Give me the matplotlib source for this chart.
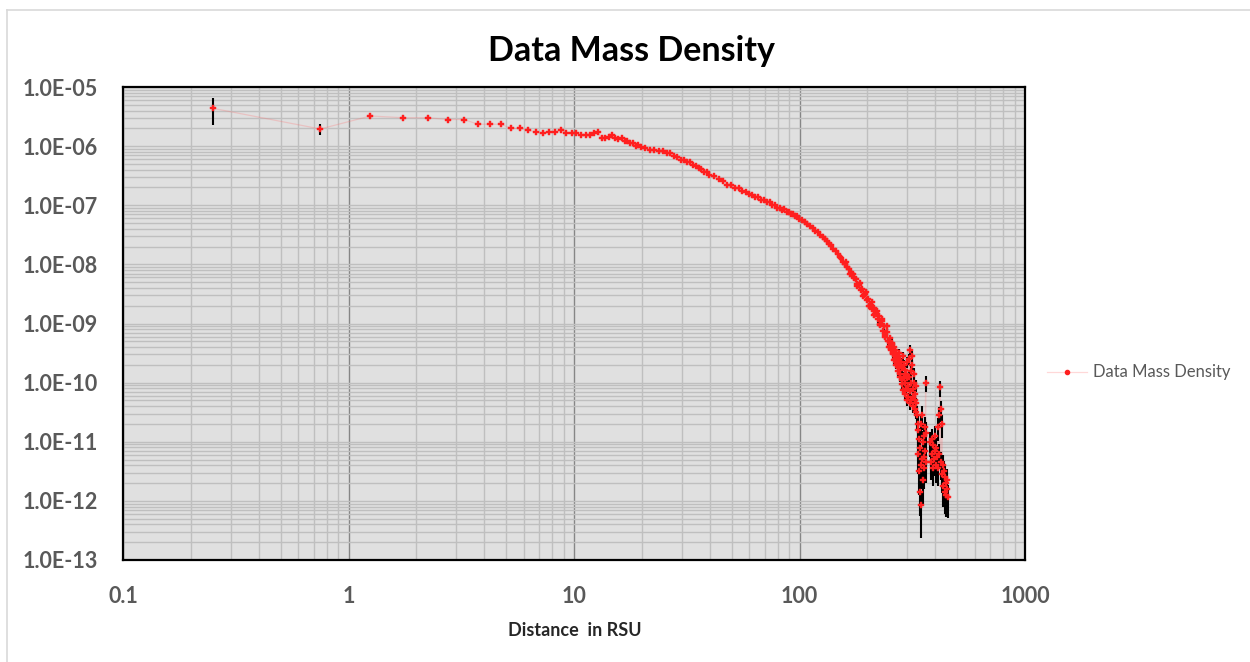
import numpy as np
import matplotlib
matplotlib.use("Agg")
import matplotlib.pyplot as plt
from matplotlib.ticker import FixedLocator, LogLocator, NullFormatter, FixedFormatter
from matplotlib.lines import Line2D

# ---------------- data ----------------
title = "Data Mass Density"
x_label = "Distance  in RSU"
series_name = "Data Mass Density"
x_ticks = [0.1, 1, 10, 100, 1000]
x_tick_labels = ["0.1", "1", "10", "100", "1000"]
y_ticks = [1e-13, 1e-12, 1e-11, 1e-10, 1e-9, 1e-8, 1e-7, 1e-6, 1e-5]
y_tick_labels = ["1.0E-13", "1.0E-12", "1.0E-11", "1.0E-10", "1.0E-09",
                 "1.0E-08", "1.0E-07", "1.0E-06", "1.0E-05"]

# inner region (bins of 0.5 RSU)
dist_a = [0.25, 0.75, 1.25, 1.75, 2.25, 2.75, 3.25, 3.75, 4.25, 4.75, 5.25, 5.75,
          6.25, 6.75, 7.25, 7.75, 8.25, 8.75, 9.25, 9.75, 10.25, 10.75, 11.25,
          11.75, 12.25, 12.75, 13.25, 13.75, 14.25, 14.75, 15.25,
          15.75, 16.25, 16.75, 17.25, 17.75, 18.25, 18.75, 19.25, 19.75]
logd_a = [-5.36, -5.71, -5.49, -5.52, -5.52, -5.55, -5.55, -5.63, -5.63, -5.63,
          -5.70, -5.70, -5.73, -5.76, -5.78, -5.76, -5.76, -5.73, -5.78, -5.78,
          -5.78, -5.82, -5.82, -5.81, -5.78, -5.76, -5.86, -5.87, -5.84, -5.81,
          -5.86, -5.88, -5.87, -5.92, -5.92, -5.95, -5.95, -5.99, -5.98, -6.02]
err_a = [0.48, 0.20, 0.09, 0.06, 0.05, 0.05, 0.04, 0.04, 0.04, 0.04,
         0.03, 0.03, 0.03, 0.03, 0.03, 0.03, 0.03, 0.03, 0.03, 0.03,
         0.03, 0.03, 0.03, 0.03, 0.03, 0.03, 0.03, 0.03, 0.03, 0.03,
         0.03, 0.03, 0.03, 0.03, 0.03, 0.03, 0.03, 0.03, 0.03, 0.03]

# middle region
dist_b = [20.75, 21.75, 22.75, 23.75, 24.75, 25.75, 26.75, 27.75, 28.75, 29.75,
          30.75, 31.75, 32.75, 33.75, 34.75, 35.75, 36.75, 37.75, 38.75, 39.75,
          41.75, 43.75, 45.75, 47.75, 49.75, 51.75, 53.75, 55.75, 57.75, 59.75,
          61.75, 63.75, 65.75, 67.75, 69.75, 71.75, 73.75, 75.75, 77.75, 79.75,
          81.75, 83.75, 85.75, 87.75, 89.75, 91.75, 93.75, 95.75, 97.75, 99.75]
logd_b = [-6.03, -6.06, -6.06, -6.08, -6.08, -6.12, -6.12, -6.16, -6.18, -6.23,
          -6.23, -6.27, -6.27, -6.32, -6.33, -6.37, -6.38, -6.43, -6.43, -6.49,
          -6.51, -6.56, -6.59, -6.65, -6.66, -6.71, -6.71, -6.76, -6.77, -6.81,
          -6.82, -6.86, -6.86, -6.91, -6.91, -6.95, -6.95, -6.99, -7.00, -7.04,
          -7.04, -7.08, -7.07, -7.11, -7.11, -7.15, -7.15, -7.19, -7.19, -7.23]
err_b = [0.03, 0.03, 0.03, 0.03, 0.03, 0.03, 0.03, 0.03, 0.03, 0.03,
         0.03, 0.03, 0.03, 0.03, 0.03, 0.03, 0.03, 0.03, 0.03, 0.03,
         0.03, 0.03, 0.03, 0.03, 0.03, 0.03, 0.03, 0.03, 0.03, 0.03,
         0.03, 0.03, 0.03, 0.03, 0.03, 0.03, 0.03, 0.03, 0.03, 0.03,
         0.04, 0.04, 0.04, 0.04, 0.04, 0.04, 0.04, 0.04, 0.04, 0.04]

# steep fall-off
dist_c = [102.5, 105.5, 108.5, 111.5, 114.5, 117.5, 120.5, 123.5, 126.5, 129.5,
          132.5, 135.5, 138.5, 141.5, 144.5, 147.5, 150.5, 153.5, 156.5, 159.5,
          162.5, 165.5, 168.5, 171.5, 174.5, 177.5, 180.5, 183.5, 186.5, 189.5,
          192.5, 195.5, 198.5, 201.5, 204.5, 207.5, 210.5, 213.5, 216.5, 219.5,
          222.5, 225.5, 228.5, 231.5, 234.5, 237.5, 240.5, 243.5, 246.5]
logd_c = [-7.25, -7.29, -7.31, -7.35, -7.38, -7.43, -7.45, -7.50, -7.54, -7.57,
          -7.61, -7.65, -7.68, -7.74, -7.78, -7.82, -7.87, -7.90, -7.96, -7.99,
          -8.05, -8.07, -8.14, -8.16, -8.23, -8.25, -8.33, -8.35, -8.44, -8.42,
          -8.52, -8.50, -8.60, -8.58, -8.70, -8.68, -8.76, -8.74, -8.84, -8.80,
          -8.93, -8.87, -9.00, -8.95, -9.12, -9.05, -9.22, -9.15, -9.30]
err_c = [0.05, 0.05, 0.05, 0.05, 0.05, 0.05, 0.05, 0.05, 0.05, 0.05,
         0.06, 0.06, 0.06, 0.06, 0.06, 0.07, 0.07, 0.07, 0.07, 0.08,
         0.08, 0.08, 0.09, 0.09, 0.10, 0.10, 0.10, 0.10, 0.10, 0.10,
         0.10, 0.10, 0.10, 0.10, 0.10, 0.10, 0.10, 0.10, 0.10, 0.10,
         0.12, 0.12, 0.12, 0.12, 0.12, 0.12, 0.12, 0.12, 0.12]

# extra scattered bins inside the fall-off
dist_c2 = [161.0, 167.0, 173.0, 179.0, 185.0, 191.0, 197.0, 203.0, 209.0, 215.0,
           221.0, 227.0, 233.0, 239.0, 245.0, 249.0]
logd_c2 = [-7.96, -8.17, -8.16, -8.36, -8.32, -8.53, -8.46, -8.70, -8.63, -8.86,
           -8.79, -9.02, -8.93, -9.20, -9.05, -9.40]
err_c2 = [0.08, 0.09, 0.09, 0.10, 0.10, 0.10, 0.10, 0.10, 0.10, 0.10,
          0.12, 0.12, 0.12, 0.12, 0.12, 0.12]

# noisy outer tail
dist_d = [250.0, 252.5, 255.0, 257.5, 260.0, 262.5, 265.0, 267.5, 270.0, 272.5,
          275.0, 277.5, 280.0, 282.5, 285.0, 287.5, 290.0, 292.5, 295.0, 297.5,
          300.0, 302.5, 305.0, 307.5, 310.0, 312.5, 315.0, 317.5, 320.0, 322.5,
          325.0, 327.5, 330.0]
logd_d = [-9.30, -9.38, -9.45, -9.35, -9.52, -9.46, -9.60, -9.50, -9.68, -9.58,
          -9.75, -9.62, -9.85, -9.70, -9.95, -9.55, -9.90, -10.00, -9.78, -10.10,
          -9.92, -10.05, -9.60, -10.15, -9.45, -10.00, -9.70, -10.25, -10.10, -9.85,
          -10.30, -10.05, -10.35]
err_d = [0.13, 0.13, 0.14, 0.14, 0.14, 0.15, 0.15, 0.15, 0.16, 0.16,
         0.16, 0.17, 0.17, 0.17, 0.18, 0.18, 0.18, 0.19, 0.19, 0.19,
         0.20, 0.20, 0.20, 0.21, 0.21, 0.21, 0.22, 0.22, 0.22, 0.23,
         0.23, 0.23, 0.24]

dist_d2 = [251.25, 253.75, 256.25, 258.75, 261.25, 263.75, 266.25, 268.75,
           271.25, 273.75, 276.25, 278.75, 281.25, 283.75, 286.25, 288.75,
           291.25, 293.75, 296.25, 298.75, 301.25, 303.75, 306.25, 308.75,
           311.25, 313.75, 316.25, 318.75, 321.25, 323.75, 326.25, 328.75]
logd_d2 = [-9.25, -9.42, -9.33, -9.50, -9.40, -9.62, -9.44, -9.70,
           -9.55, -9.80, -9.50, -9.90, -9.65, -10.02, -9.75, -10.12,
           -9.70, -10.20, -9.85, -10.30, -9.65, -10.25, -9.90, -10.35,
           -9.80, -10.30, -9.55, -10.40, -10.00, -10.45, -10.20, -10.50]
err_d2 = [0.14, 0.14, 0.15, 0.15, 0.15, 0.16, 0.16, 0.16,
          0.17, 0.17, 0.17, 0.18, 0.18, 0.18, 0.19, 0.19,
          0.19, 0.20, 0.20, 0.20, 0.21, 0.21, 0.21, 0.22,
          0.22, 0.22, 0.23, 0.23, 0.23, 0.24, 0.24, 0.24]

dist_e = [332.5, 334.0, 335.5, 337.0, 338.5, 340.0, 341.5, 343.0, 344.5, 346.0,
          347.5, 349.0, 350.5, 352.0, 353.5, 355.0, 356.5, 358.0, 359.5, 361.0,
          362.5, 364.0, 365.5]
logd_e = [-10.55, -10.70, -11.20, -10.80, -11.50, -10.95, -11.85, -11.10, -11.40,
          -10.70, -12.07, -11.30, -10.55, -11.00, -11.65, -11.25, -10.90, -11.45,
          -11.15, -10.75, -10.00, -11.35, -10.85]
err_e = [0.45, 0.50, 0.55, 0.50, 0.60, 0.50, 0.60, 0.55, 0.60, 0.45,
         0.72, 0.55, 0.45, 0.50, 0.60, 0.55, 0.50, 0.55, 0.52, 0.45,
         0.30, 0.55, 0.50]

dist_f = [380.0, 382.5, 385.0, 387.5, 390.0, 392.5, 395.0, 397.5, 400.0, 402.5,
          405.0, 407.5, 410.0, 412.5, 415.0, 417.5, 420.0, 422.5, 425.0, 427.5,
          430.0, 432.5, 435.0, 437.5, 440.0, 442.5, 445.0, 447.5, 450.0, 452.5,
          455.0]
logd_f = [-11.00, -11.35, -10.95, -11.20, -11.45, -11.05, -11.30, -10.90, -11.15, -11.40,
          -11.10, -11.25, -10.75, -11.45, -10.55, -11.20, -10.08, -10.45, -11.35, -10.70,
          -11.55, -11.40, -11.75, -11.50, -11.85, -11.60, -11.90, -11.70, -11.80, -11.65,
          -11.93]
err_f = [0.45, 0.50, 0.45, 0.48, 0.50, 0.45, 0.48, 0.45, 0.46, 0.50,
         0.46, 0.48, 0.42, 0.50, 0.40, 0.46, 0.30, 0.38, 0.50, 0.42,
         0.52, 0.50, 0.55, 0.50, 0.57, 0.52, 0.57, 0.52, 0.55, 0.52,
         0.57]

dist = np.array(dist_a + dist_b + dist_c + dist_c2 + dist_d + dist_d2 + dist_e + dist_f)
log_density = np.array(logd_a + logd_b + logd_c + logd_c2 + logd_d + logd_d2 + logd_e + logd_f)
rel_err = np.array(err_a + err_b + err_c + err_c2 + err_d + err_d2 + err_e + err_f)

order = np.argsort(dist, kind="stable")
dist = dist[order]
log_density = log_density[order]
rel_err = rel_err[order]

density = 10.0 ** log_density
yerr = density * rel_err

# ---------------- style ----------------
plt.rcParams["font.family"] = ["Lato", "DejaVu Sans"]
W, H = 1250, 662
fig = plt.figure(figsize=(W / 100, H / 100), dpi=100)
fig.patch.set_facecolor("white")

# outer chart frame (left and top visible)
fig.add_artist(Line2D([7 / W, 7 / W], [0, 1 - 10 / H], color="#d9d9d9", lw=1.2))
fig.add_artist(Line2D([7 / W, 1], [1 - 10 / H, 1 - 10 / H], color="#d9d9d9", lw=1.2))

ax_l, ax_r, ax_t, ax_b = 123, 1025, 87, 560
ax = fig.add_axes([ax_l / W, 1 - ax_b / H, (ax_r - ax_l) / W, (ax_b - ax_t) / H])
ax.set_facecolor("#e0e0e0")
ax.set_xscale("log")
ax.set_yscale("log")
ax.set_xlim(0.1, 1000)
ax.set_ylim(1e-13, 1e-5)

ax.xaxis.set_major_locator(FixedLocator(x_ticks))
ax.xaxis.set_major_formatter(FixedFormatter(x_tick_labels))
ax.yaxis.set_major_locator(FixedLocator(y_ticks))
ax.yaxis.set_major_formatter(FixedFormatter(y_tick_labels))
ax.xaxis.set_minor_locator(LogLocator(base=10, subs=np.arange(2, 10), numticks=100))
ax.yaxis.set_minor_locator(LogLocator(base=10, subs=np.arange(2, 10), numticks=100))
ax.xaxis.set_minor_formatter(NullFormatter())
ax.yaxis.set_minor_formatter(NullFormatter())

ax.set_axisbelow(True)
ax.grid(which="minor", axis="both", color="#bfbfbf", lw=1.0)
ax.grid(which="major", axis="y", color="#bfbfbf", lw=1.0)
ax.grid(which="major", axis="x", color="#868686", lw=1.0)

ax.tick_params(which="both", length=0)
ax.tick_params(axis="y", pad=18, labelsize=15.5, labelcolor="#595959")
ax.tick_params(axis="x", pad=19, labelsize=15.5, labelcolor="#595959")
for lab in ax.get_xticklabels() + ax.get_yticklabels():
    lab.set_fontweight("bold")

for s in ax.spines.values():
    s.set_color("black")
    s.set_linewidth(1.6)

# connecting line (faint)
ax.plot(dist, density, color=(1.0, 0.45, 0.45, 0.28), lw=0.9, zorder=2)
# error bars
ax.errorbar(dist, density, yerr=yerr, fmt="none", ecolor="black",
            elinewidth=1.5, capsize=0, zorder=3)
# markers
ax.plot(dist, density, linestyle="none", marker="P", markersize=4.7,
        markerfacecolor="#ff1f1f", markeredgecolor="#ff1f1f", markeredgewidth=0.3,
        zorder=4)

fig.text(631 / W, 1 - 51 / H, title, ha="center", va="center",
         fontsize=24.5, fontweight="bold", color="black")

ax.set_xlabel(x_label, fontsize=13, fontweight="bold", color="#262626")
ax.xaxis.set_label_coords((575 - ax_l) / (ax_r - ax_l), (ax_b - 630) / (ax_b - ax_t))
ax.xaxis.label.set_va("center")

handle = Line2D([], [], color=(1.0, 0.45, 0.45, 0.28), lw=0.9, marker="o",
                markersize=3, markerfacecolor="#ff1f1f", markeredgecolor="#ff1f1f")
leg = fig.legend([handle], [series_name], loc="center left",
                 bbox_to_anchor=(1047 / W, 1 - 372.5 / H), frameon=False,
                 borderpad=0, borderaxespad=0, handlelength=2.4, handletextpad=0.35,
                 prop={"size": 12})
for t in leg.get_texts():
    t.set_color("#595959")

fig.savefig("out.png", dpi=100, facecolor="white")
